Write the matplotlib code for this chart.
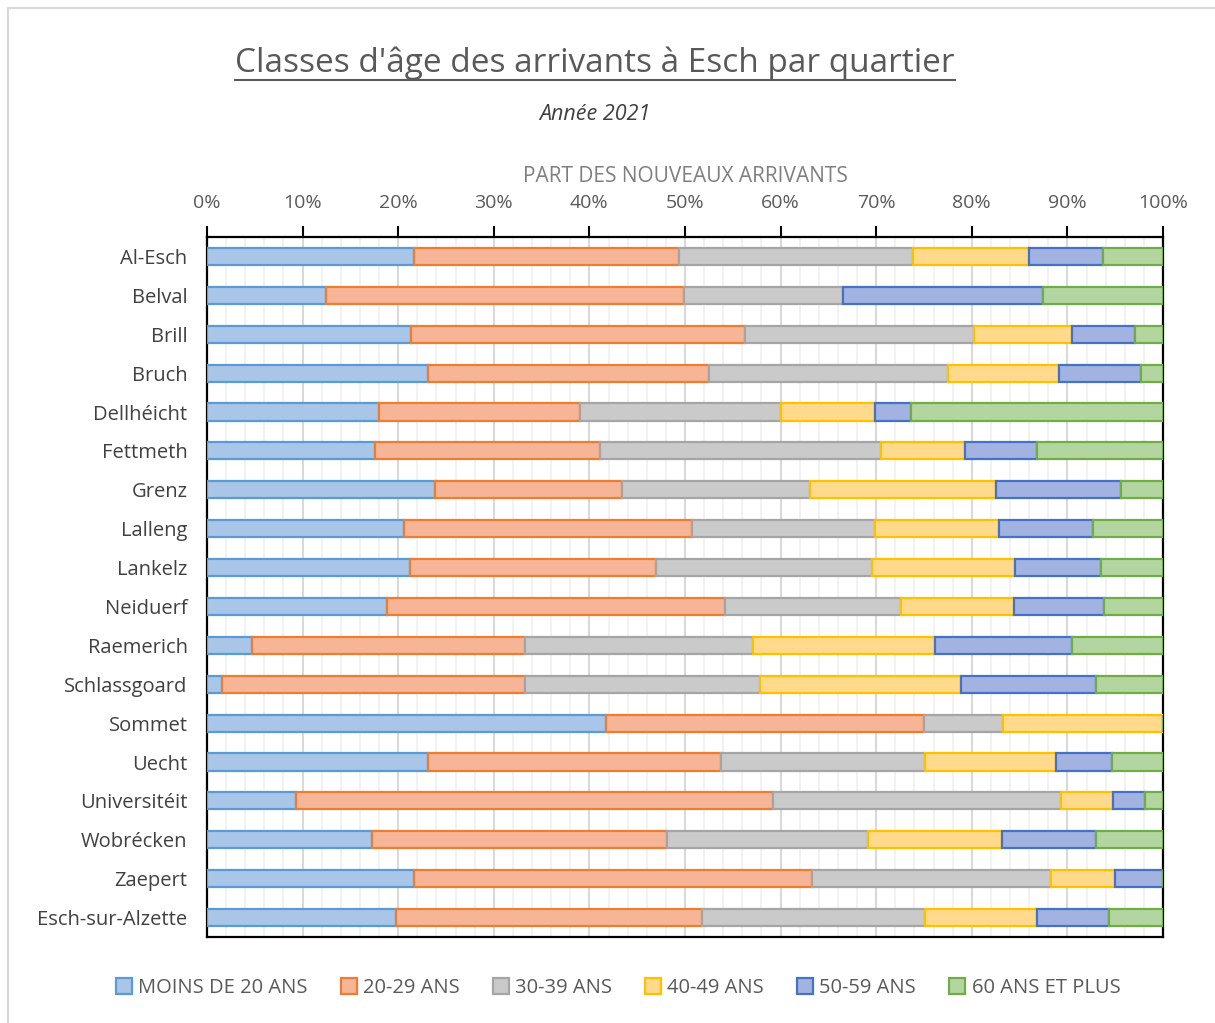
import matplotlib
matplotlib.use("Agg")
import matplotlib.pyplot as plt
from matplotlib.ticker import MultipleLocator, FuncFormatter
from matplotlib.patches import Rectangle
from matplotlib.lines import Line2D
import numpy as np

quartiers = ["Al-Esch", "Belval", "Brill", "Bruch", "Dellhéicht", "Fettmeth", "Grenz",
             "Lalleng", "Lankelz", "Neiduerf", "Raemerich", "Schlassgoard", "Sommet",
             "Uecht", "Universitéit", "Wobrécken", "Zaepert", "Esch-sur-Alzette"]

series_names = ["MOINS DE 20 ANS", "20-29 ANS", "30-39 ANS", "40-49 ANS", "50-59 ANS", "60 ANS ET PLUS"]

moins20 = [21.7, 12.4, 21.3, 23.1, 18.0, 17.6, 23.8, 20.6, 21.2, 18.8, 4.7, 1.6, 41.7, 23.1, 9.3, 17.3, 21.7, 19.8]
a20_29 = [27.7, 37.5, 35.0, 29.4, 21.0, 23.5, 19.6, 30.1, 25.8, 35.4, 28.6, 31.7, 33.3, 30.7, 49.9, 30.8, 41.6, 32.0]
a30_39 = [24.4, 16.6, 23.9, 25.0, 21.0, 29.4, 19.7, 19.2, 22.6, 18.4, 23.8, 24.5, 8.3, 21.3, 30.1, 21.0, 25.0, 23.3]
a40_49 = [12.2, 0.0, 10.3, 11.6, 9.9, 8.8, 19.4, 12.9, 14.9, 11.8, 19.1, 21.1, 16.7, 13.7, 5.5, 14.1, 6.7, 11.7]
a50_59 = [7.7, 20.9, 6.6, 8.6, 3.7, 7.5, 13.1, 9.9, 9.0, 9.4, 14.3, 14.1, 0.0, 5.9, 3.3, 9.8, 5.0, 7.6]
a60plus = [6.3, 12.6, 2.9, 2.3, 26.4, 13.2, 4.4, 7.3, 6.5, 6.2, 9.5, 7.0, 0.0, 5.3, 1.9, 7.0, 0.0, 5.6]

fills = ["#a9c6e8", "#f5b596", "#cacaca", "#ffda8c", "#a2b3e2", "#b3d6a0"]
edges = ["#5b9bd5", "#ed7d31", "#a5a5a5", "#ffc000", "#4472c4", "#70ad47"]

plt.rcParams['font.family'] = ['Open Sans', 'DejaVu Sans']

fig = plt.figure(figsize=(12.15, 10.23), dpi=100)
W, H = 1215, 1023
ax = fig.add_axes([207 / W, 1 - 937 / H, (1163 - 207) / W, (937 - 237) / H])

data = [moins20, a20_29, a30_39, a40_49, a50_59, a60plus]
y = np.arange(len(quartiers))
left = np.zeros(len(quartiers))
for vals, name, fc, ec in zip(data, series_names, fills, edges):
    v = np.array(vals, dtype=float)
    ax.barh(y, v, left=left, height=0.44, color=fc, edgecolor=ec, linewidth=1.6,
            label=name, zorder=3)
    left += v

ax.set_xlim(0, 100)
ax.set_ylim(len(quartiers) - 0.5, -0.5)
ax.set_yticks(y)
ax.set_yticklabels(quartiers)
ax.xaxis.set_major_locator(MultipleLocator(10))
ax.xaxis.set_minor_locator(MultipleLocator(2))
ax.xaxis.set_major_formatter(FuncFormatter(lambda v, p: f"{int(round(v))}%"))
ax.xaxis.tick_top()
ax.xaxis.set_label_position('top')
ax.tick_params(axis='x', which='major', direction='out', length=8, width=1.5, color='black',
               labelsize=14, labelcolor='#595959', pad=10)
ax.tick_params(axis='x', which='minor', length=0)
ax.tick_params(axis='y', length=0, labelsize=14.5, labelcolor='#404040', pad=14)
ax.grid(axis='x', which='major', color='#d9d9d9', linewidth=1.5, zorder=0)
ax.grid(axis='x', which='minor', color='#f0f0f0', linewidth=1.2, zorder=0)
ax.set_axisbelow(True)
for s in ax.spines.values():
    s.set_color('black')
    s.set_linewidth(1.6)
ax.set_xlabel("PART DES NOUVEAUX ARRIVANTS", fontsize=15, color='#7f7f7f', labelpad=9)

# Titles
t = fig.text(595 / W, 1 - 63 / H, "Classes d'âge des arrivants à Esch par quartier",
             ha='center', va='center', fontsize=24, color='#595959')
fig.text(595 / W, 1 - 114 / H, "Année 2021", ha='center', va='center', fontsize=15.5,
         style='italic', color='#404040')

# Legend
handles = [Rectangle((0, 0), 1, 1, facecolor=fc, edgecolor=ec, linewidth=1.6)
           for fc, ec in zip(fills, edges)]
fig.legend(handles, series_names, loc='center', bbox_to_anchor=(618 / W, 1 - 988 / H),
           ncol=6, frameon=False, fontsize=14.5, labelcolor='#595959',
           handlelength=0.8, handleheight=0.8, handletextpad=0.3, columnspacing=1.65)

# Chart border
fig.patches.append(Rectangle((8 / W, -0.1), 1.2, 1 - 8 / H + 0.1, transform=fig.transFigure,
                             fill=False, edgecolor='#d9d9d9', linewidth=1.5))

# Underline title
fig.canvas.draw()
bb = t.get_window_extent(renderer=fig.canvas.get_renderer()).transformed(fig.transFigure.inverted())
fig.add_artist(Line2D([bb.x0, bb.x1], [1 - 80 / H, 1 - 80 / H], transform=fig.transFigure,
                      color='#595959', linewidth=1.5))

fig.savefig("out.png", dpi=100)
